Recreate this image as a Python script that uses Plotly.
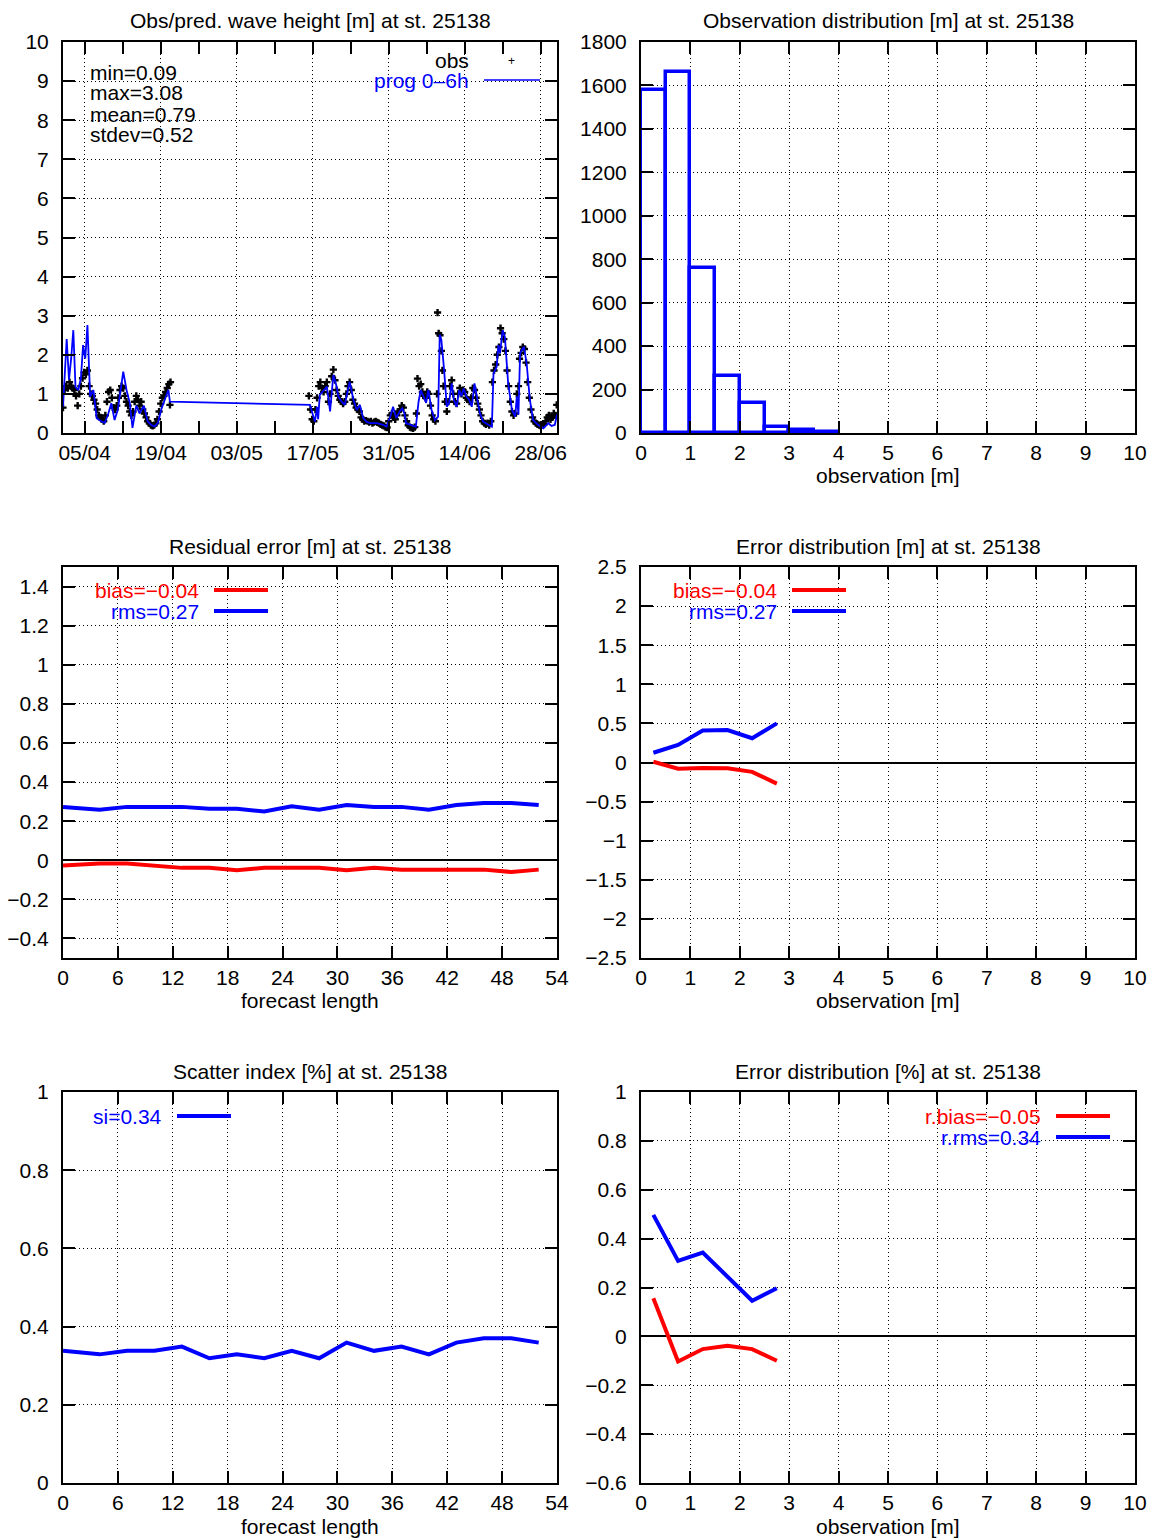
import pandas as pd
import plotly.graph_objects as go

# ---------------- data ----------------
START = pd.Timestamp("2013-04-01")

# panel 1: model prognosis (0-6h), days after 01/04
prog_day = [0.0, 0.35, 0.68, 1.1, 1.5, 1.9, 2.3, 2.8, 3.3, 3.7, 4.1, 4.5, 5.0, 5.6, 6.2, 7.0,
            7.7, 8.35, 8.9, 9.5, 10.1, 11.1, 11.7, 12.3, 12.8, 13.5, 14.1, 14.9, 15.6, 16.3,
            16.9, 17.5, 18.1, 19.4, 19.7,
            45.5, 46.0, 46.4, 46.8, 47.0, 47.3, 48.0, 48.6, 49.2, 49.8, 50.4, 50.7, 51.3,
            51.9, 52.8, 53.5, 54.1, 54.7, 55.3, 55.9, 56.6, 57.8, 59.0, 59.6, 60.3, 60.8,
            61.4, 62.0, 62.5, 62.9, 63.2, 64.0, 65.0, 65.5, 65.9, 66.4, 66.9, 67.3, 67.9,
            68.5, 69.1, 69.4, 69.7, 70.2, 70.7, 71.1, 71.6, 72.0, 72.5, 73.0, 73.4, 73.8,
            74.3, 74.8, 75.3, 75.8, 76.2, 76.8, 77.4, 78.4, 79.0, 79.3, 79.9, 80.2, 80.5,
            81.0, 81.4, 82.0, 82.7, 83.3, 83.6, 83.9, 84.2, 84.9, 85.4, 86.0, 86.6, 87.5,
            88.5, 89.4, 90.0, 90.6, 91.0]
prog_val = [0.67, 1.5, 2.4, 1.36, 1.9, 2.63, 1.18, 1.1, 1.4, 2.25, 1.9, 2.76, 0.93, 1.1, 0.38, 0.3,
            0.26, 0.5, 0.76, 0.33, 0.6, 1.57, 1.1, 0.77, 0.13, 0.7, 0.5, 0.7, 0.3, 0.2,
            0.17, 0.26, 0.6, 1.1, 0.8,
            0.72, 0.45, 0.29, 0.67, 0.35, 0.97, 1.1, 1.19, 0.55, 1.49, 1.19, 0.94, 0.81,
            0.72, 1.31, 0.85, 0.59, 0.72, 0.38, 0.29, 0.25, 0.25, 0.21, 0.16, 0.42, 0.67,
            0.38, 0.55, 0.63, 0.5, 0.25, 0.21, 0.16, 0.8, 1.1, 0.94, 0.77, 1.1, 0.59,
            0.33, 0.42, 2.51, 2.38, 1.62, 0.67, 0.76, 1.27, 0.85, 0.67, 1.1, 0.94, 1.14,
            0.94, 0.85, 0.67, 1.27, 0.94, 0.5, 0.29, 0.21, 0.16, 1.52, 1.7, 2.25, 2.04,
            2.63, 2.46, 1.27, 0.59, 0.42, 0.94, 0.47, 2.04, 2.21, 1.79, 0.85, 0.33, 0.21,
            0.12, 0.25, 0.18, 0.21, 0.47]

# panel 1: observations, days after 01/04
obs_day = [0.0, 0.3, 0.6, 0.9, 1.2, 1.5, 1.8, 2.1, 2.4, 2.7, 3.0, 3.3, 3.6, 3.9, 4.2, 4.5, 4.8,
           5.1, 5.4, 5.7, 6.0, 6.3, 6.6, 6.9, 7.2, 7.5, 7.8, 8.1, 8.4, 8.7, 9.0, 9.3, 9.6,
           9.9, 10.2, 10.5, 10.8, 11.1, 11.4, 11.7, 12.0, 12.3, 12.6, 12.9, 13.2, 13.5, 13.8,
           14.1, 14.4, 14.7, 15.0, 15.3, 15.6, 15.9, 16.2, 16.5, 16.8, 17.1, 17.4, 17.7,
           18.0, 18.3, 18.6, 18.9, 19.2, 19.5, 19.7, 19.8,
           45.3, 45.6, 45.9, 46.2, 46.5, 46.8, 47.1, 47.4, 47.7, 48.0, 48.3, 48.6, 48.9,
           49.2, 49.5, 49.8, 50.1, 50.4, 50.7, 51.0, 51.3, 51.6, 51.9, 52.2, 52.5, 52.8,
           53.1, 53.4, 53.7, 54.0, 54.3, 54.6, 54.9, 55.2, 55.5, 55.8, 56.1, 56.4, 56.7,
           57.0, 57.3, 57.6, 57.9, 58.2, 58.5, 58.8, 59.1, 59.4, 59.7, 60.0, 60.3, 60.6,
           60.9, 61.2, 61.5, 61.8, 62.1, 62.4, 62.7, 63.0, 63.3, 63.6, 63.9, 64.2, 64.5,
           64.8, 65.1, 65.3, 65.6, 65.9, 66.2, 66.5, 66.8, 67.1, 67.4, 67.7, 68.0, 68.3,
           68.6, 68.9, 69.0, 69.2, 69.45, 69.7, 69.9, 70.1, 70.4, 70.7, 71.0, 71.3, 71.6,
           71.9, 72.2, 72.5, 72.8, 73.1, 73.4, 73.7, 74.0, 74.3, 74.6, 74.9, 75.2, 75.5,
           75.8, 76.1, 76.4, 76.7, 77.0, 77.3, 77.6, 77.9, 78.2, 78.5, 78.8, 79.1, 79.4,
           79.7, 80.0, 80.3, 80.6, 80.9, 81.2, 81.5, 81.8, 82.1, 82.4, 82.7, 83.0, 83.3,
           83.6, 83.9, 84.1, 84.4, 84.7, 85.0, 85.3, 85.6, 85.9, 86.2, 86.5, 86.8, 87.1,
           87.4, 87.7, 88.0, 88.3, 88.6, 88.9, 89.2, 89.5, 89.8, 90.1, 90.4, 90.7, 90.95]
obs_val = [0.65, 1.1, 1.2, 1.15, 1.3, 1.2, 1.15, 1.1, 0.95, 0.7, 1.0, 1.2, 1.4, 1.55, 1.5, 1.6, 1.2,
           1.0, 0.95, 0.85, 0.75, 0.6, 0.45, 0.4, 0.35, 0.3, 0.45, 0.8, 1.05, 1.1, 0.9, 0.65, 0.6,
           0.7, 0.9, 1.1, 1.2, 1.15, 0.95, 0.8, 0.7, 0.55, 0.45, 0.55, 0.8, 0.95, 0.85,
           0.7, 0.8, 0.6, 0.5, 0.4, 0.3, 0.25, 0.2, 0.18, 0.2, 0.25, 0.35, 0.55,
           0.75, 0.9, 0.95, 1.05, 1.15, 1.25, 0.72, 1.3,
           0.95, 0.6, 0.35, 0.3, 0.6, 0.9, 1.2, 1.3, 1.15, 1.05, 1.2, 1.3, 0.8,
           1.0, 1.45, 1.62, 1.35, 1.1, 0.95, 0.85, 0.8, 0.75, 0.8, 1.0, 1.2, 1.3,
           1.1, 0.85, 0.75, 0.65, 0.6, 0.55, 0.4, 0.35, 0.3, 0.32, 0.3, 0.28, 0.3,
           0.25, 0.28, 0.3, 0.27, 0.25, 0.22, 0.2, 0.18, 0.15, 0.14, 0.3, 0.45, 0.5,
           0.4, 0.35, 0.45, 0.55, 0.6, 0.7, 0.65, 0.45, 0.3, 0.2, 0.15, 0.13, 0.12,
           0.15, 0.5, 1.39, 1.2, 1.25, 1.05, 0.95, 0.9, 1.05, 1.0, 0.7, 0.45, 0.35,
           0.3, 1.0, 3.08, 2.55, 2.5, 2.1, 1.6, 1.2, 0.8, 0.55, 0.8, 1.2, 1.35,
           1.0, 0.8, 0.75, 1.0, 1.15, 1.0, 1.1, 1.05, 0.9, 0.85, 0.8, 0.9, 1.15,
           1.1, 0.9, 0.75, 0.6, 0.45, 0.3, 0.25, 0.22, 0.25, 0.2, 0.3, 1.3, 1.6,
           1.75, 2.0, 2.2, 2.68, 2.55, 2.4, 2.1, 1.6, 1.2, 0.8, 0.55, 0.45, 0.5,
           1.0, 1.2, 1.9, 2.05, 2.2, 2.15, 1.8, 1.3, 0.9, 0.6, 0.4, 0.3, 0.25,
           0.22, 0.2, 0.18, 0.2, 0.22, 0.3, 0.4, 0.45, 0.35, 0.4, 0.5, 0.45, 0.72]

# panel 2: observation histogram
hist_centers = [0.25, 0.75, 1.25, 1.75, 2.25, 2.75, 3.25, 3.75]
hist_counts = [1578, 1662, 761, 262, 137, 29, 14, 3]

# panels 3 and 5: vs forecast length
fc_hours = [0, 4, 7, 10, 13, 16, 19, 22, 25, 28, 31, 34, 37, 40, 43, 46, 49, 52]
bias_fc = [-0.027, -0.017, -0.017, -0.027, -0.039, -0.039, -0.051, -0.039, -0.039, -0.039,
           -0.051, -0.039, -0.048, -0.048, -0.048, -0.048, -0.060, -0.048]
rms_fc = [0.273, 0.259, 0.273, 0.273, 0.273, 0.263, 0.263, 0.249, 0.276, 0.259,
          0.283, 0.273, 0.273, 0.259, 0.283, 0.293, 0.293, 0.283]
si_fc = [0.338, 0.329, 0.338, 0.338, 0.349, 0.319, 0.329, 0.319, 0.338, 0.319,
         0.359, 0.338, 0.349, 0.329, 0.359, 0.370, 0.370, 0.359]

# panels 4 and 6: vs observation
obs_bins = [0.25, 0.75, 1.25, 1.75, 2.25, 2.75]
bias_m = [0.01, -0.08, -0.07, -0.075, -0.12, -0.27]
rms_m = [0.125, 0.225, 0.41, 0.415, 0.31, 0.50]
rbias = [0.156, -0.103, -0.052, -0.038, -0.052, -0.10]
rrms = [0.497, 0.309, 0.343, 0.247, 0.146, 0.197]

# ---------------- layout helpers ----------------
W, H = 1164, 1539
FONT = "Liberation Sans"
FS = 21
BLUE = "#0000ff"
RED = "#ff0000"


def px(x):
    return x / W


def py(y):
    return 1 - y / H


COLS = [(63, 557), (641, 1135)]
ROWS = [(42, 433), (567, 958), (1092, 1483)]


def axis(**kw):
    d = dict(showline=True, linecolor="black", linewidth=2, mirror="ticks",
             ticks="inside", ticklen=12, tickwidth=1.5, tickcolor="black",
             showgrid=True, gridcolor="black", gridwidth=1, griddash="1px,3px",
             zeroline=False, layer="above traces", automargin=False,
             tickfont=dict(family=FONT, size=FS, color="black"))
    d.update(kw)
    return d


def dates(days):
    return [START + pd.Timedelta(days=d) for d in days]


fig = go.Figure()

# panel 1
fig.add_trace(go.Scatter(x=dates(obs_day), y=obs_val, mode="markers",
                         marker=dict(symbol="cross", size=6, color="black"),
                         xaxis="x", yaxis="y"))
fig.add_trace(go.Scatter(x=dates(prog_day), y=prog_val, mode="lines",
                         line=dict(color=BLUE, width=1.8), xaxis="x", yaxis="y"))
# panel 2
fig.add_trace(go.Bar(x=hist_centers, y=hist_counts, width=0.5,
                     marker=dict(color="rgba(255,255,255,0)", line=dict(color=BLUE, width=3.5)),
                     xaxis="x2", yaxis="y2"))
# panel 3
fig.add_trace(go.Scatter(x=fc_hours, y=bias_fc, mode="lines", line=dict(color=RED, width=4),
                         xaxis="x3", yaxis="y3"))
fig.add_trace(go.Scatter(x=fc_hours, y=rms_fc, mode="lines", line=dict(color=BLUE, width=4),
                         xaxis="x3", yaxis="y3"))
# panel 4
fig.add_trace(go.Scatter(x=obs_bins, y=bias_m, mode="lines", line=dict(color=RED, width=4),
                         xaxis="x4", yaxis="y4"))
fig.add_trace(go.Scatter(x=obs_bins, y=rms_m, mode="lines", line=dict(color=BLUE, width=4),
                         xaxis="x4", yaxis="y4"))
# panel 5
fig.add_trace(go.Scatter(x=fc_hours, y=si_fc, mode="lines", line=dict(color=BLUE, width=4),
                         xaxis="x5", yaxis="y5"))
# panel 6
fig.add_trace(go.Scatter(x=obs_bins, y=rbias, mode="lines", line=dict(color=RED, width=4),
                         xaxis="x6", yaxis="y6"))
fig.add_trace(go.Scatter(x=obs_bins, y=rrms, mode="lines", line=dict(color=BLUE, width=4),
                         xaxis="x6", yaxis="y6"))


def xdom(c):
    return [px(COLS[c][0]), px(COLS[c][1])]


def ydom(r):
    return [py(ROWS[r][1]), py(ROWS[r][0])]


YSTAND = 8
DAY_MS = 86400000
layout_axes = dict(
    xaxis=axis(domain=xdom(0), anchor="y", type="date",
               range=[START, START + pd.Timedelta(days=91)],
               tick0="2013-04-05", dtick=14 * DAY_MS, tickformat="%d/%m",
               minor=dict(tick0="2013-04-05", dtick=7 * DAY_MS, ticks="inside",
                          ticklen=12, tickwidth=1.5, tickcolor="black", showgrid=False)),
    yaxis=axis(domain=ydom(0), anchor="x", range=[0, 10], tick0=0, dtick=1,
               ticklabelstandoff=YSTAND),
    xaxis2=axis(domain=xdom(1), anchor="y2", range=[0, 10], tick0=0, dtick=1),
    yaxis2=axis(domain=ydom(0), anchor="x2", range=[0, 1800], tick0=0, dtick=200,
                ticklabelstandoff=YSTAND),
    xaxis3=axis(domain=xdom(0), anchor="y3", range=[0, 54], tick0=0, dtick=6),
    yaxis3=axis(domain=ydom(1), anchor="x3", range=[-0.5, 1.5], tick0=0, dtick=0.2,
                zeroline=True, zerolinecolor="black", zerolinewidth=2,
                ticklabelstandoff=YSTAND),
    xaxis4=axis(domain=xdom(1), anchor="y4", range=[0, 10], tick0=0, dtick=1),
    yaxis4=axis(domain=ydom(1), anchor="x4", range=[-2.5, 2.5], tick0=0, dtick=0.5,
                zeroline=True, zerolinecolor="black", zerolinewidth=2,
                ticklabelstandoff=YSTAND),
    xaxis5=axis(domain=xdom(0), anchor="y5", range=[0, 54], tick0=0, dtick=6),
    yaxis5=axis(domain=ydom(2), anchor="x5", range=[0, 1], tick0=0, dtick=0.2,
                ticklabelstandoff=YSTAND),
    xaxis6=axis(domain=xdom(1), anchor="y6", range=[0, 10], tick0=0, dtick=1),
    yaxis6=axis(domain=ydom(2), anchor="x6", range=[-0.6, 1], tick0=0, dtick=0.2,
                zeroline=True, zerolinecolor="black", zerolinewidth=2,
                ticklabelstandoff=YSTAND),
)

annotations = []
shapes = []


def text(s, x, y, anchor="center", color="black", size=FS):
    annotations.append(dict(text=s, x=px(x), y=py(y), xref="paper", yref="paper",
                            xanchor=anchor, yanchor="middle", showarrow=False,
                            font=dict(family=FONT, size=size, color=color)))


def sample(x0, x1, y, color, width):
    shapes.append(dict(type="line", xref="paper", yref="paper", x0=px(x0), x1=px(x1),
                       y0=py(y), y1=py(y), line=dict(color=color, width=width)))


# titles
text("Obs/pred. wave height [m] at st. 25138", 310, 20)
text("Observation distribution [m] at st. 25138", 888, 20)
text("Residual error [m] at st. 25138", 310, 546)
text("Error distribution [m] at st. 25138", 888, 546)
text("Scatter index [%] at st. 25138", 310, 1071)
text("Error distribution [%] at st. 25138", 888, 1071)
# axis titles
text("observation [m]", 888, 475)
text("forecast length", 310, 1000)
text("observation [m]", 888, 1000)
text("forecast length", 310, 1526)
text("observation [m]", 888, 1526)

# panel 1 stats + key
text("min=0.09", 88, 73, anchor="left")
text("max=3.08", 88, 93, anchor="left")
text("mean=0.79", 88, 114, anchor="left")
text("stdev=0.52", 88, 134, anchor="left")
text("obs", 471, 61, anchor="right")
text("+", 511, 61, size=12)
text("prog 0\u20136h", 471, 81, anchor="right", color=BLUE)
sample(484, 540, 80, BLUE, 1.6)

# panel 3 key
text("bias=\u22120.04", 201, 590, anchor="right", color=RED)
sample(214, 268, 590, RED, 4)
text("rms=0.27", 201, 611, anchor="right", color=BLUE)
sample(214, 268, 611, BLUE, 4)
# panel 4 key
text("bias=\u22120.04", 779, 590, anchor="right", color=RED)
sample(792, 846, 590, RED, 4)
text("rms=0.27", 779, 611, anchor="right", color=BLUE)
sample(792, 846, 611, BLUE, 4)
# panel 5 key
text("si=0.34", 164, 1116, anchor="right", color=BLUE)
sample(177, 231, 1116, BLUE, 4)
# panel 6 key
text("r.bias=\u22120.05", 1043, 1116, anchor="right", color=RED)
sample(1056, 1110, 1116, RED, 4)
text("r.rms=0.34", 1043, 1137, anchor="right", color=BLUE)
sample(1056, 1110, 1137, BLUE, 4)

fig.update_layout(width=W, height=H, autosize=False,
                  margin=dict(l=0, r=0, t=0, b=0),
                  paper_bgcolor="white", plot_bgcolor="white",
                  showlegend=False, bargap=0,
                  font=dict(family=FONT, size=FS, color="black"),
                  annotations=annotations, shapes=shapes, **layout_axes)

fig.write_html("out.html")
